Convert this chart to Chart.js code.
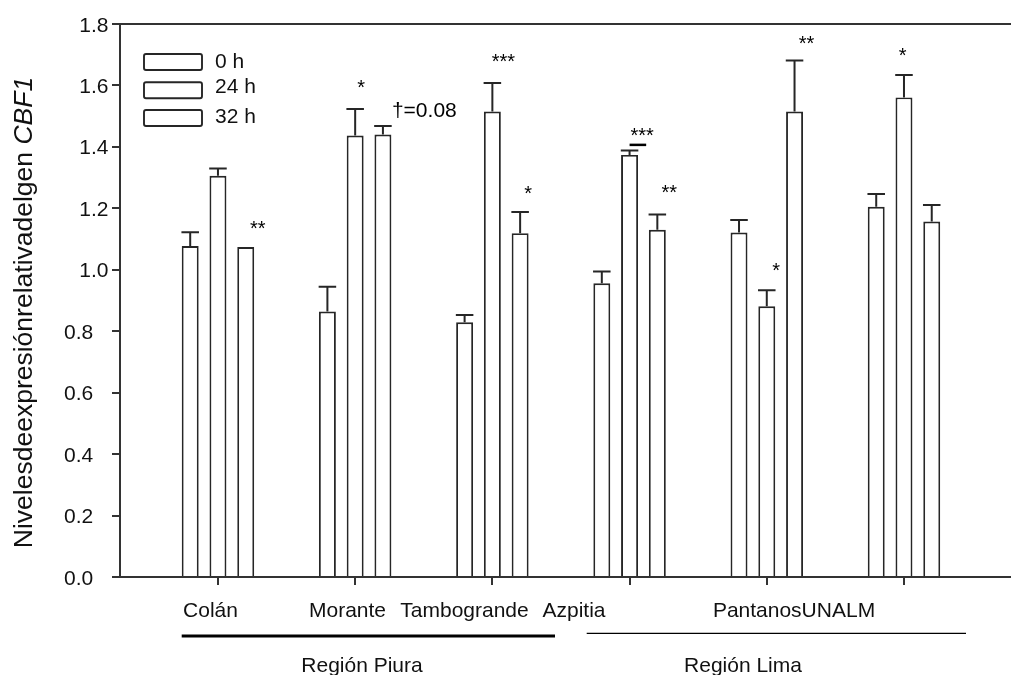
<!DOCTYPE html>
<html>
<head>
<meta charset="utf-8">
<script src="https://cdn.jsdelivr.net/npm/chart.js@4.4.1/dist/chart.umd.min.js"></script>
<style>
  html, body { margin: 0; padding: 0; background: #ffffff; }
  #wrap { width: 1011px; height: 675px; position: relative; }
</style>
</head>
<body>
<div id="wrap"><canvas id="chart"></canvas></div>
<script>
// ---------------- DATA ----------------
const categories = ['Colán', 'Morante', 'Tambogrande', 'Azpitia', 'Pantanos', 'UNALM'];
const seriesNames = ['0 h', '24 h', '32 h'];

const values0h  = [1.077, 0.864, 0.829, 0.956, 1.121, 1.205];
const values24h = [1.306, 1.437, 1.515, 1.374, 0.881, 1.561];
const values32h = [1.074, 1.440, 1.119, 1.130, 1.515, 1.157];

const err0h  = [0.045, 0.081, 0.024, 0.038, 0.041, 0.042];
const err24h = [0.024, 0.086, 0.093, 0.014, 0.052, 0.073];
const err32h = [0.000, 0.028, 0.069, 0.050, 0.166, 0.054];

const yTickValues = [0.0, 0.2, 0.4, 0.6, 0.8, 1.0, 1.2, 1.4, 1.6, 1.8];
const yTickLabels = ['0.0', '0.2', '0.4', '0.6', '0.8', '1.0', '1.2', '1.4', '1.6', '1.8'];

const xLabelTexts = ['Colán', 'Morante', 'Tambogrande', 'Azpitia', 'PantanosUNALM'];
const regionNames = ['Región Piura', 'Región Lima'];

const yTitleRegular = 'Nivelesdeexpresiónrelativadelgen ';
const yTitleItalic = 'CBF1';

// significance marks: category index, series index, text
const sigCats   = [0, 1, 1, 2, 2, 3, 3, 4, 4, 5];
const sigSeries = [2, 1, 2, 1, 2, 1, 2, 1, 2, 1];
const sigTexts  = ['**', '*', '†=0.08', '***', '*', '***', '**', '*', '**', '*'];

// ---------------- LAYOUT / STYLE ----------------
const FONT = '"Liberation Sans", Arial, Helvetica, sans-serif';
const AXIS_COLOR = '#333333';
const BAR_EDGE = '#262626';
const sigOffsets = [ // [dx from bar centre, dy from error top (visual centre of text)]
  [12, -24], [6, -27], [9, -16], [11, -27], [8, -24],
  [12.5, -20.5], [12, -27], [9.4, -25], [12, -22], [-1.3, -25]
];
const xLabelCentersPx = [210.5, 347.5, 464.5, 574, 794];
const legendBoxTops = [54, 82.3, 110];
const legendTextBaselines = [68.3, 93.3, 123.3];

const valueSets = [values0h, values24h, values32h];
const errSets = [err0h, err24h, err32h];

const datasets = seriesNames.map((name, s) => ({
  label: name,
  data: valueSets[s].map((v, i) => ({ x: i, y: v })),
  backgroundColor: '#ffffff',
  borderColor: BAR_EDGE,
  borderWidth: 1.9,
  borderSkipped: 'start',
  categoryPercentage: 0.607,
  barPercentage: 0.61
}));

const decorPlugin = {
  id: 'decor',
  afterDatasetsDraw(chart) {
    const ctx = chart.ctx;
    const ys = chart.scales.y;
    const area = chart.chartArea;
    ctx.save();

    // top frame line
    ctx.strokeStyle = AXIS_COLOR;
    ctx.lineWidth = 2;
    ctx.beginPath();
    ctx.moveTo(area.left - 1, area.top);
    ctx.lineTo(area.right, area.top);
    ctx.stroke();

    // error bars (upper only)
    ctx.strokeStyle = BAR_EDGE;
    ctx.lineWidth = 2;
    for (let s = 0; s < 3; s++) {
      const meta = chart.getDatasetMeta(s);
      meta.data.forEach((bar, i) => {
        const e = errSets[s][i];
        if (!e) return;
        const x = bar.x;
        const yTop = ys.getPixelForValue(valueSets[s][i] + e);
        const half = bar.width / 2 + 0.3;
        ctx.beginPath();
        ctx.moveTo(x, bar.y);
        ctx.lineTo(x, yTop);
        ctx.moveTo(x - half, yTop);
        ctx.lineTo(x + half, yTop);
        ctx.stroke();
      });
    }

    // significance marks
    ctx.fillStyle = '#000';
    sigTexts.forEach((t, k) => {
      const s = sigSeries[k], i = sigCats[k];
      const bar = chart.getDatasetMeta(s).data[i];
      const topVal = valueSets[s][i] + errSets[s][i];
      const yTop = ys.getPixelForValue(topVal);
      const [dx, dy] = sigOffsets[k];
      if (t.indexOf('*') === 0) {
        ctx.font = '20px ' + FONT;
        ctx.textAlign = 'center';
        ctx.textBaseline = 'alphabetic';
        ctx.fillText(t, bar.x + dx, yTop + dy + 11.6);
      } else {
        ctx.font = '21px ' + FONT;
        ctx.textAlign = 'left';
        ctx.textBaseline = 'alphabetic';
        ctx.fillText(t, bar.x + dx, yTop + dy + 7.5);
      }
    });
    // short bar above Azpitia 24 h
    {
      const bar = chart.getDatasetMeta(1).data[3];
      const yTop = ys.getPixelForValue(values24h[3] + err24h[3]);
      ctx.strokeStyle = '#000';
      ctx.lineWidth = 2.5;
      ctx.beginPath();
      ctx.moveTo(bar.x, yTop - 5.7);
      ctx.lineTo(bar.x + 16.6, yTop - 5.7);
      ctx.stroke();
    }

    // y tick labels
    ctx.fillStyle = '#111';
    ctx.font = '21px ' + FONT;
    ctx.textAlign = 'right';
    ctx.textBaseline = 'alphabetic';
    yTickValues.forEach((v, k) => {
      const y = ys.getPixelForValue(v);
      const right = v >= 1 ? area.left - 11.5 : area.left - 26.8;
      ctx.fillText(yTickLabels[k], right, y + 7.5);
    });

    // x labels
    ctx.textAlign = 'center';
    xLabelTexts.forEach((t, k) => {
      ctx.fillText(t, xLabelCentersPx[k], 616.5);
    });

    // region lines
    ctx.strokeStyle = '#000';
    ctx.lineWidth = 3;
    ctx.beginPath();
    ctx.moveTo(181.7, 636); ctx.lineTo(555, 636);
    ctx.stroke();
    ctx.lineWidth = 1.2;
    ctx.beginPath();
    ctx.moveTo(586.7, 633.3); ctx.lineTo(966, 633.3);
    ctx.stroke();

    // region labels
    ctx.fillText(regionNames[0], 362, 672);
    ctx.fillText(regionNames[1], 743, 672);

    // legend
    seriesNames.forEach((name, s) => {
      const top = legendBoxTops[s];
      ctx.fillStyle = '#fff';
      ctx.strokeStyle = BAR_EDGE;
      ctx.lineWidth = 1.9;
      ctx.beginPath();
      if (ctx.roundRect) ctx.roundRect(144, top, 58, 16, 2); else ctx.rect(144, top, 58, 16);
      ctx.fill();
      ctx.stroke();
      ctx.fillStyle = '#111';
      ctx.textAlign = 'left';
      ctx.fillText(name, 215, legendTextBaselines[s]);
    });

    // y axis title
    ctx.save();
    ctx.translate(32.3, 312.5);
    ctx.rotate(-Math.PI / 2);
    ctx.font = '26.5px ' + FONT;
    const w1 = ctx.measureText(yTitleRegular).width;
    ctx.font = 'italic 26.5px ' + FONT;
    const w2 = ctx.measureText(yTitleItalic).width;
    const start = -(w1 + w2) / 2;
    ctx.textAlign = 'left';
    ctx.textBaseline = 'alphabetic';
    ctx.fillStyle = '#111';
    ctx.font = '26.5px ' + FONT;
    ctx.fillText(yTitleRegular, start, 0);
    ctx.font = 'italic 26.5px ' + FONT;
    ctx.fillText(yTitleItalic, start + w1, 0);
    ctx.restore();

    ctx.restore();
  }
};

new Chart(document.getElementById('chart'), {
  type: 'bar',
  data: { datasets },
  options: {
    responsive: true,
    maintainAspectRatio: false,
    animation: false,
    layout: { padding: { top: 24, left: 0, right: 0, bottom: 0 } },
    plugins: { legend: { display: false }, tooltip: { enabled: false } },
    scales: {
      x: {
        type: 'linear',
        offset: false,
        min: -0.714,
        max: 5.780,
        afterBuildTicks: (sc) => { sc.ticks = categories.map((c, i) => ({ value: i })); },
        afterFit: (sc) => { sc.height = 98; },
        ticks: { display: false },
        grid: { display: true, offset: false, drawOnChartArea: false, drawTicks: true, tickLength: 8, color: AXIS_COLOR, lineWidth: 2 },
        border: { display: true, color: AXIS_COLOR, width: 2 }
      },
      y: {
        type: 'linear',
        min: 0,
        max: 1.8,
        afterBuildTicks: (sc) => { sc.ticks = yTickValues.map(v => ({ value: v })); },
        afterFit: (sc) => { sc.width = 120; },
        ticks: { display: false },
        grid: { display: true, drawOnChartArea: false, drawTicks: true, tickLength: 8, color: AXIS_COLOR, lineWidth: 2 },
        border: { display: true, color: AXIS_COLOR, width: 2 }
      }
    }
  },
  plugins: [decorPlugin]
});
</script>
</body>
</html>
